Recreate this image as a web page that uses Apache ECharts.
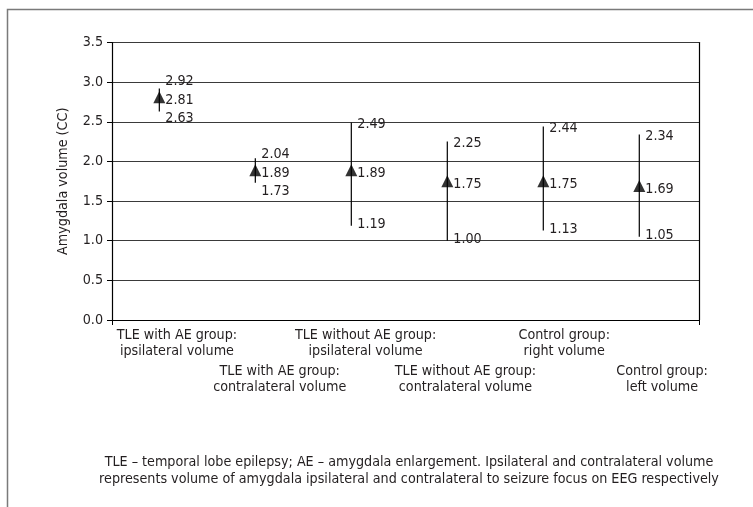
<!DOCTYPE html>
<html>
<head>
<meta charset="utf-8">
<script src="https://cdn.jsdelivr.net/npm/echarts@6/dist/echarts.min.js"></script>
<style>
html,body{margin:0;padding:0;background:#fff;}
#chart{width:753px;height:507px;}
</style>
</head>
<body>
<div id="chart"></div>
<script>
const categories = [
  'TLE with AE group:\nipsilateral volume',
  'TLE with AE group:\ncontralateral volume',
  'TLE without AE group:\nipsilateral volume',
  'TLE without AE group:\ncontralateral volume',
  'Control group:\nright volume',
  'Control group:\nleft volume'
];
const means = [2.81, 1.89, 1.89, 1.75, 1.75, 1.69];
const upper = [2.92, 2.04, 2.49, 2.25, 2.44, 2.34];
const lower = [2.63, 1.73, 1.19, 1.00, 1.13, 1.05];
const yTicks = [0, 0.5, 1.0, 1.5, 2.0, 2.5, 3.0, 3.5];
const yTitle = 'Amygdala volume (CC)';
const footnote = 'TLE \u2013 temporal lobe epilepsy; AE \u2013 amygdala enlargement. Ipsilateral and contralateral volume\nrepresents volume of amygdala ipsilateral and contralateral to seizure focus on EEG respectively';

const FONT = "'Liberation Sans Narrow', 'DejaVu Sans Condensed', 'Noto Sans', sans-serif";
const TXT = '#231f20';
const FS = 14.2;
// horizontal nudge of each category label (px, style only)
const labelShift = [16, 21, 9, 11, 12, 12];

const chart = echarts.init(document.getElementById('chart'), null, {renderer: 'canvas'});

const errData = means.map((m, i) => [i, lower[i], upper[i], m]);

function renderItem(params, api) {
  const i = api.value(0);
  const lo = api.value(1), hi = api.value(2), m = api.value(3);
  const pLo = api.coord([i, lo]);
  const pHi = api.coord([i, hi]);
  const pM = api.coord([i, m]);
  const sep = 18.5;
  const yMeanLbl = pM[1] + 3;
  const yHiLbl = Math.min(pHi[1] + 2, yMeanLbl - sep);
  const yLoLbl = Math.max(pLo[1] - 1, yMeanLbl + sep);
  const tx = pM[0] + 6;
  const mk = (y, v) => ({
    type: 'text',
    style: {x: tx, y: y, text: v.toFixed(2), fill: TXT, font: FS + 'px ' + FONT, textAlign: 'left', textVerticalAlign: 'middle'}
  });
  return {
    type: 'group',
    children: [
      {type: 'line', shape: {x1: pLo[0], y1: pLo[1], x2: pHi[0], y2: pHi[1]}, style: {stroke: '#000', lineWidth: 1.2}},
      mk(yHiLbl, hi), mk(yMeanLbl, m), mk(yLoLbl, lo)
    ]
  };
}

const rich = {};
labelShift.forEach((s, i) => {
  rich['c' + i] = {fontSize: FS, lineHeight: 15.5, color: TXT, fontFamily: FONT, padding: [0, 0, 0, 2 * s]};
});
function fmtRow(parity) {
  return (v, i) => {
    if (i % 2 !== parity) return '';
    return v.split('\n').map(t => '{c' + i + '|' + t + '}').join('\n');
  };
}

const option = {
  backgroundColor: '#fff',
  animation: false,
  textStyle: {fontFamily: FONT},
  title: {
    text: footnote,
    left: 404, top: 449, textAlign: 'center',
    textStyle: {fontFamily: FONT, fontSize: FS, fontWeight: 'normal', color: TXT, lineHeight: 17}
  },
  graphic: [{
    type: 'polyline', silent: true,
    shape: {points: [[7.5, 507], [7.5, 9.5], [753, 9.5]]},
    style: {stroke: '#7a7a7a', lineWidth: 1.5, fill: null}
  }],
  grid: {left: 112, top: 42.5, right: 54, bottom: 187},
  xAxis: [
    {type: 'value', min: -0.493, max: 5.622, show: false},
    {type: 'value', min: 0, max: 1, interval: 1, position: 'bottom',
     axisLine: {show: true, lineStyle: {color: '#000', width: 1.2}},
     axisTick: {show: true, length: 5, lineStyle: {color: '#000'}},
     axisLabel: {show: false}, splitLine: {show: false}},
    {type: 'category', data: categories, position: 'bottom', boundaryGap: true,
     axisLine: {show: false}, axisTick: {show: false}, splitLine: {show: false},
     axisLabel: {interval: 0, margin: 8, color: TXT, fontFamily: FONT, fontSize: FS,
       formatter: fmtRow(0), rich: rich}},
    {type: 'category', data: categories, position: 'bottom', offset: 36, boundaryGap: true,
     axisLine: {show: false}, axisTick: {show: false}, splitLine: {show: false},
     axisLabel: {interval: 0, margin: 8, color: TXT, fontFamily: FONT, fontSize: FS,
       formatter: fmtRow(1), rich: rich}}
  ],
  yAxis: [
    {type: 'value', min: yTicks[0], max: yTicks[yTicks.length - 1], interval: 0.5,
     name: yTitle, nameLocation: 'middle', nameGap: 42, nameRotate: 90,
     nameTextStyle: {fontSize: FS, color: TXT, fontFamily: FONT},
     axisLine: {show: true, onZero: false, lineStyle: {color: '#000', width: 1.2}},
     axisTick: {show: true, length: 5, lineStyle: {color: '#000'}},
     axisLabel: {fontSize: FS, color: TXT, margin: 9, fontFamily: FONT, formatter: v => v.toFixed(1)},
     splitLine: {show: true, lineStyle: {color: '#3a3a3a', width: 1.2}}},
    {type: 'value', min: 0, max: 3.5, position: 'right',
     axisLine: {show: true, onZero: false, lineStyle: {color: '#000', width: 1.2}},
     axisTick: {show: false}, axisLabel: {show: false}, splitLine: {show: false}}
  ],
  series: [
    {type: 'custom', xAxisIndex: 0, yAxisIndex: 0, renderItem: renderItem, data: errData, z: 3},
    {type: 'scatter', xAxisIndex: 0, yAxisIndex: 0, symbol: 'triangle', symbolSize: 12,
     itemStyle: {color: '#000'}, data: means.map((m, i) => [i, m]), z: 4}
  ]
};
chart.setOption(option);
</script>
</body>
</html>
